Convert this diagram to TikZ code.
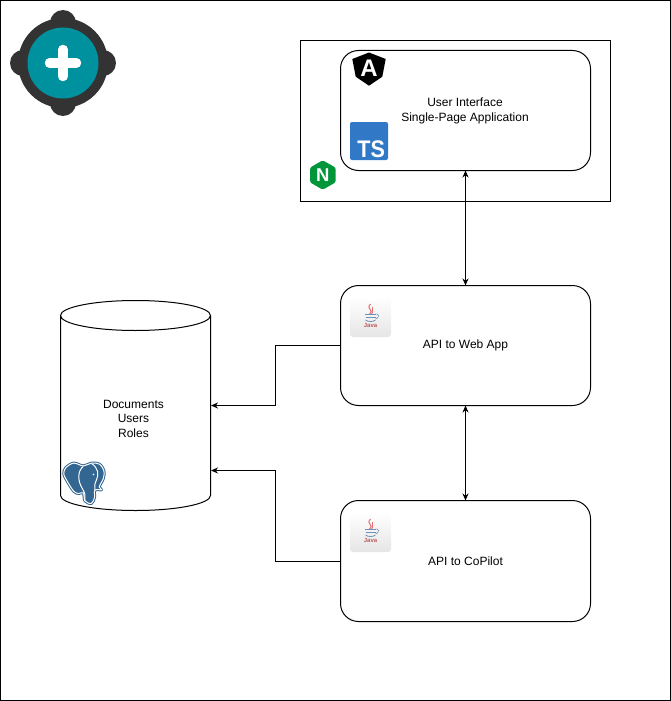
\documentclass[tikz,border=0pt]{standalone}
\usepackage{fontspec}
\setmainfont{Liberation Sans}
\usetikzlibrary{arrows.meta}

\definecolor{tealblue}{HTML}{00919E}
\definecolor{ringgray}{HTML}{333333}
\definecolor{tsblue}{HTML}{3178C6}
\definecolor{nginxgreen}{HTML}{009639}
\definecolor{pgblue}{HTML}{336791}
\definecolor{javared}{HTML}{E76F6F}
\definecolor{javablue}{HTML}{6F8FB5}

\tikzset{
    box/.style={draw,rounded corners=18pt,minimum width=250pt,outer sep=0pt,inner sep=0pt,align=center,font=\fontsize{12}{14.5}\selectfont},
    link/.style={{Stealth[length=7pt,width=6pt]}-{Stealth[length=7pt,width=6pt]}},
    feed/.style={-{Stealth[length=7pt,width=6pt]}},
    logotext/.style={white,inner sep=0pt},
    javaicon/.pic={
        \shade[rounded corners=3pt,top color=white,bottom color=black!10] (-20.5,-20) rectangle (20.5,20);
        \draw[javared,line width=1pt] (0,-13) .. controls (-5,-8) and (4,-7) .. (-1,-3);
        \draw[javared,line width=.8pt] (2,-10) .. controls (0,-7) and (4,-6) .. (1,-3);
        \draw[javablue,line width=.8pt] (-6,-3) -- (5,-3);
        \draw[javablue,line width=.8pt] (-5,0) -- (5,0);
        \draw[javablue,line width=.8pt] (-5,3) .. controls (-3,5) and (3,5) .. (5,3);
        \draw[javablue,line width=.6pt] (5,-3) .. controls (9,-4) and (9,1) .. (5,2);
        \node[text=javared!80!black,inner sep=0pt,font=\fontsize{6}{7}\bfseries\selectfont] (-javatext) at (0,8.5) {Java};
    }
}

\begin{document}
\begin{tikzpicture}[x=1pt,y=-1pt,line width=1pt]
\useasboundingbox (0,0) rectangle (671,701);
\draw (0.5,0.5) rectangle (670.5,700.5);

% logo
\begin{scope}[shift={(63,63)}]
    \fill[ringgray] (0,0) circle (45);
    \foreach \a in {0,90,180,270}
        \fill[ringgray] (\a:40) circle (13);
    \fill[tealblue] (0,0) circle (35.5);
    \draw[white,line width=9.5pt,line cap=round] (-13.5,0) -- (13.5,0) (0,-13.5) -- (0,13.5);
\end{scope}

% frontend
\node[draw,minimum width=310pt,minimum height=161pt,outer sep=0pt] (nginxbox) at (455.5,121) {};
\node[box,minimum height=120pt] (ui) at (465.5,110.5) {};
\node[align=center,inner sep=0pt,font=\fontsize{12}{14.5}\selectfont] (uitext) at (465,111) {User Interface\\Single-Page Application};

\fill[black] (369,52.5) -- (385.7,59) -- (382.3,76.7) -- (369,85.7) -- (355.7,76.7) -- (352.3,59) -- cycle;
\node[logotext,font=\fontsize{24}{24}\bfseries\selectfont] (angular) at (369,68.5) {A};

\fill[tsblue,rounded corners=2pt] (350,122) rectangle (388,160);
\node[logotext,font=\fontsize{24}{24}\bfseries\selectfont,anchor=base east] (ts) at (385.5,157) {\scalebox{.9}[1]{TS}};

\fill[nginxgreen,rounded corners=1.5pt] (322.7,160.3) -- (335.7,167.7) -- (335.7,182.3) -- (322.7,189.7) -- (310,182.3) -- (310,167.7) -- cycle;
\node[logotext,font=\fontsize{18.5}{18.5}\bfseries\selectfont] (nginx) at (322.7,175) {N};

% services
\node[box,minimum height=120pt] (webapi) at (465.5,345.5) {API to Web App};
\node[box,minimum height=121pt] (copilot) at (465.5,561) {API to CoPilot};
\pic (webjava) at (370.5,317) {javaicon};
\pic (copilotjava) at (370.5,532) {javaicon};

% database
\draw (60.5,315.5) arc[start angle=180,end angle=0,x radius=75,y radius=15]
    arc[start angle=0,end angle=-180,x radius=75,y radius=15]
    -- (60.5,495.5) arc[start angle=180,end angle=0,x radius=75,y radius=15]
    -- (210.5,315.5);
\node[align=center,inner sep=0pt,font=\fontsize{12}{14.5}\selectfont] (db) at (133.5,418.5) {Documents\\Users\\Roles};
\coordinate (dbweb) at (211,405.5);
\coordinate (dbcopilot) at (211,470.5);

% elephant
\begin{scope}[shift={(84,484)},scale=.95,shift={(-84,-484)}]
\def\elephant{plot[smooth cycle,tension=.55] coordinates {(65,466.7) (73.3,462) (83.3,465) (91.7,462) (100,463) (105,470) (104.3,478.3) (100,487) (102.5,490) (95.5,490.5) (95,498.3) (91.7,504.5) (85,501.7) (83.3,493.3) (78.3,494) (73.3,491.7) (66.7,481.7) (62.7,473.3)}}
\draw[pgblue,line width=3pt,line join=round] \elephant;
\fill[pgblue] \elephant;
\draw[white,line width=1pt] \elephant;
\draw[white,line width=1pt] (83,465.5) .. controls (77,471) and (77,481) .. (83,490);
\draw[white,line width=1pt] (92,462.5) .. controls (99,467) and (100,474) .. (97,480) .. controls (95,484) and (95,487) .. (95.5,490.5);
\draw[white,line width=1pt] (83,490) .. controls (85,492) and (85,495) .. (85,501.7);
\fill[white] (94,474) circle (1);
\end{scope}

% connectors
\draw[link] (ui.south) -- (webapi.north);
\draw[link] (webapi.south) -- (copilot.north);
\draw[feed] (webapi.west) -- (275.5,345.5) -- (275.5,405.5) -- (dbweb);
\draw[feed] (copilot.west) -- (275.5,561) -- (275.5,470.5) -- (dbcopilot);
\end{tikzpicture}
\end{document}
